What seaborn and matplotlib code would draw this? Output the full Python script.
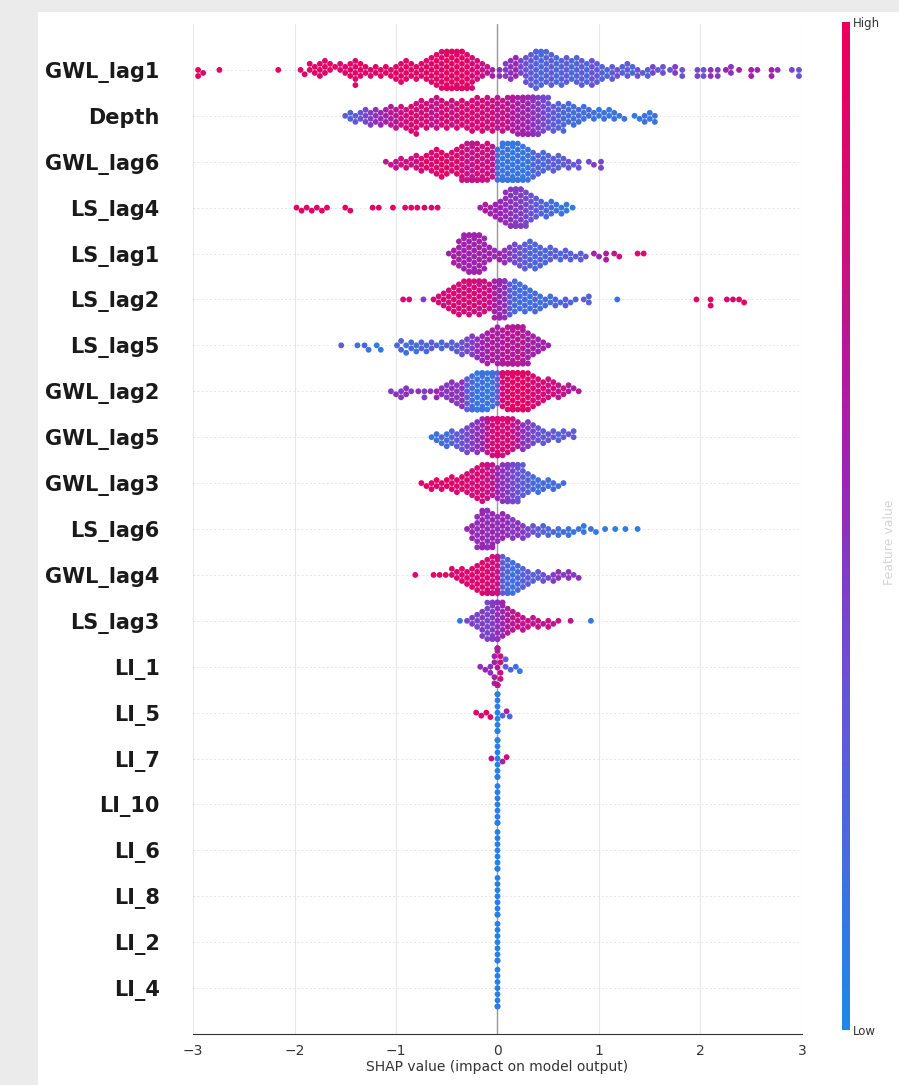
import warnings
warnings.filterwarnings("ignore")
import numpy as np
import pandas as pd
import matplotlib
matplotlib.use("Agg")
import matplotlib.pyplot as plt
import seaborn as sns
from matplotlib.colors import LinearSegmentedColormap, Normalize
from matplotlib.cm import ScalarMappable
from matplotlib.patches import Rectangle

# ---------------- data: (SHAP value, number of samples, feature value 0=low..1=high)
features = ["GWL_lag1", "Depth", "GWL_lag6", "LS_lag4", "LS_lag1", "LS_lag2", "LS_lag5",
            "GWL_lag2", "GWL_lag5", "GWL_lag3", "LS_lag6", "GWL_lag4", "LS_lag3",
            "LI_1", "LI_5", "LI_7", "LI_10", "LI_6", "LI_8", "LI_2", "LI_4"]

GWL_lag1 = [(-2.95,2,0.95),(-2.90,1,0.9),(-2.74,1,0.9),(-2.16,1,0.95),
    (-1.94,1,0.85),(-1.90,1,0.9),(-1.85,2,0.95),(-1.80,2,0.9),(-1.75,3,0.95),(-1.70,3,0.9),
    (-1.65,2,0.95),(-1.60,1,0.9),(-1.55,2,0.85),(-1.50,2,0.9),(-1.45,3,0.95),(-1.40,5,0.9),
    (-1.35,3,0.95),(-1.30,2,0.9),(-1.25,2,0.85),(-1.20,2,0.95),(-1.15,2,0.9),(-1.10,2,0.95),
    (-1.05,2,0.9),(-1.00,3,0.95),(-0.95,4,0.9),(-0.90,4,0.95),(-0.85,3,0.9),(-0.80,3,0.95),
    (-0.75,3,0.9),(-0.70,4,0.95),(-0.65,5,0.9),(-0.60,6,0.95),(-0.55,7,0.9),(-0.50,8,0.95),
    (-0.45,9,0.95),(-0.40,8,0.9),(-0.35,9,0.95),(-0.30,7,0.9),(-0.25,6,0.85),(-0.20,4,0.8),
    (-0.15,3,0.75),(-0.10,2,0.7),(-0.05,2,0.6),
    (0.02,2,0.5),(0.08,3,0.45),(0.13,4,0.5),(0.18,4,0.55),(0.23,3,0.4),(0.28,5,0.35),
    (0.33,6,0.3),(0.38,8,0.25),(0.43,7,0.2),(0.48,6,0.25),(0.53,6,0.3),(0.58,5,0.2),
    (0.63,5,0.25),(0.68,5,0.3),(0.73,4,0.2),(0.78,5,0.25),(0.83,5,0.3),(0.88,4,0.2),
    (0.93,5,0.35),(0.98,4,0.3),(1.03,3,0.25),(1.08,2,0.2),(1.13,3,0.3),(1.18,2,0.35),
    (1.23,2,0.25),(1.28,3,0.3),(1.33,2,0.2),(1.38,2,0.35),(1.43,1,0.3),(1.48,2,0.25),
    (1.53,2,0.4),(1.58,1,0.3),(1.63,2,0.35),(1.70,1,0.3),(1.75,2,0.45),(1.82,2,0.35),
    (1.97,2,0.4),(2.03,2,0.35),(2.10,2,0.5),(2.17,2,0.45),(2.25,1,0.55),(2.30,2,0.5),
    (2.38,1,0.6),(2.50,2,0.6),(2.56,1,0.55),(2.70,2,0.6),(2.76,1,0.5),(2.90,1,0.4),(2.97,2,0.35)]

Depth = [(-1.50,1,0.3),(-1.45,2,0.25),(-1.40,2,0.3),(-1.35,2,0.35),(-1.30,3,0.4),(-1.25,3,0.45),
    (-1.20,3,0.5),(-1.15,3,0.55),(-1.10,3,0.6),(-1.05,4,0.65),(-1.00,4,0.7),(-0.95,4,0.75),
    (-0.90,4,0.8),(-0.85,5,0.85),(-0.80,6,0.85),(-0.75,5,0.8),(-0.70,5,0.85),(-0.65,5,0.7),
    (-0.60,6,0.75),(-0.55,5,0.8),(-0.50,5,0.85),(-0.45,5,0.75),(-0.40,5,0.8),(-0.35,5,0.85),
    (-0.30,5,0.8),(-0.25,6,0.85),(-0.20,6,0.8),(-0.15,6,0.85),(-0.10,6,0.75),(-0.05,6,0.8),
    (0.00,6,0.7),(0.05,6,0.75),(0.10,6,0.7),(0.15,7,0.65),(0.20,7,0.6),(0.25,8,0.6),
    (0.30,9,0.55),(0.35,9,0.5),(0.40,8,0.45),(0.45,7,0.4),(0.50,6,0.35),(0.55,5,0.3),
    (0.60,5,0.25),(0.65,5,0.2),(0.70,4,0.2),(0.75,4,0.15),(0.80,3,0.2),(0.85,3,0.15),
    (0.90,2,0.2),(0.95,2,0.15),(1.00,2,0.1),(1.05,2,0.15),(1.10,2,0.1),(1.15,2,0.15),
    (1.20,1,0.1),(1.25,1,0.15),(1.35,1,0.1),(1.40,1,0.1),(1.45,2,0.15),(1.50,2,0.1),(1.55,2,0.15)]

GWL_lag6 = [(-1.10,1,0.7),(-1.05,1,0.75),(-1.00,2,0.7),(-0.95,2,0.75),(-0.90,2,0.8),(-0.85,2,0.75),
    (-0.80,3,0.8),(-0.75,3,0.85),(-0.70,3,0.9),(-0.65,4,0.85),(-0.60,5,0.9),(-0.55,5,0.95),
    (-0.50,4,0.9),(-0.45,4,0.85),(-0.40,5,0.9),(-0.35,7,0.8),(-0.30,8,0.75),(-0.25,9,0.7),
    (-0.20,8,0.8),(-0.15,7,0.75),(-0.10,7,0.8),(-0.05,6,0.7),(0.00,6,0.2),(0.05,8,0.1),
    (0.10,8,0.15),(0.15,9,0.1),(0.20,8,0.15),(0.25,7,0.1),(0.30,6,0.15),(0.35,5,0.2),
    (0.40,4,0.25),(0.45,4,0.2),(0.50,3,0.25),(0.55,3,0.3),(0.60,3,0.25),(0.65,2,0.3),
    (0.70,2,0.35),(0.75,1,0.3),(0.80,2,0.35),(0.90,1,0.4),(0.95,1,0.45),(1.02,2,0.4)]

LS_lag4 = [(-1.98,1,0.9),(-1.93,1,0.95),(-1.88,1,0.9),(-1.83,1,0.95),(-1.78,1,0.9),(-1.73,1,0.95),
    (-1.68,1,0.9),(-1.50,1,0.95),(-1.45,1,0.9),(-1.23,1,0.95),(-1.17,1,0.9),(-1.03,1,0.95),
    (-0.91,1,0.9),(-0.85,1,0.95),(-0.79,1,0.9),(-0.72,1,0.95),(-0.65,1,0.9),(-0.59,1,0.85),
    (-0.17,1,0.6),(-0.12,2,0.65),(-0.07,2,0.6),(-0.02,3,0.55),(0.03,4,0.55),(0.08,6,0.5),
    (0.13,8,0.5),(0.18,10,0.45),(0.23,9,0.45),(0.28,7,0.4),(0.33,5,0.35),(0.38,4,0.3),
    (0.43,3,0.25),(0.48,3,0.2),(0.53,3,0.2),(0.58,2,0.15),(0.63,2,0.15),(0.68,2,0.1),(0.74,1,0.1)]

LS_lag1 = [(-0.48,1,0.6),(-0.43,3,0.6),(-0.38,5,0.6),(-0.33,7,0.55),(-0.28,9,0.6),(-0.23,10,0.55),
    (-0.18,9,0.6),(-0.13,6,0.55),(-0.08,3,0.6),(-0.03,2,0.5),(0.02,2,0.6),(0.07,3,0.5),
    (0.12,3,0.45),(0.17,4,0.4),(0.22,4,0.35),(0.27,5,0.3),(0.32,5,0.25),(0.37,5,0.2),
    (0.42,4,0.25),(0.47,3,0.2),(0.52,3,0.25),(0.57,2,0.3),(0.62,2,0.2),(0.67,2,0.3),
    (0.72,2,0.25),(0.77,1,0.3),(0.82,2,0.25),(0.87,1,0.35),(0.95,1,0.6),(1.00,1,0.55),
    (1.07,2,0.65),(1.15,1,0.7),(1.20,1,0.75),(1.38,1,0.85),(1.44,1,0.9)]

LS_lag2 = [(-0.93,1,0.85),(-0.87,1,0.8),(-0.73,1,0.45),(-0.63,1,0.85),(-0.58,2,0.8),(-0.53,3,0.85),
    (-0.48,4,0.8),(-0.43,5,0.85),(-0.38,6,0.8),(-0.33,6,0.85),(-0.28,7,0.8),(-0.23,6,0.85),
    (-0.18,7,0.75),(-0.13,6,0.8),(-0.08,5,0.75),(-0.03,7,0.6),(0.02,9,0.55),(0.07,8,0.5),
    (0.12,6,0.3),(0.17,6,0.2),(0.22,5,0.15),(0.27,5,0.2),(0.32,4,0.15),(0.37,4,0.2),
    (0.42,3,0.15),(0.47,2,0.2),(0.52,2,0.15),(0.57,2,0.25),(0.62,1,0.2),(0.67,2,0.3),
    (0.72,1,0.2),(0.77,1,0.25),(0.85,1,0.3),(0.90,2,0.25),(1.18,1,0.15),(1.96,1,0.9),
    (2.10,2,0.9),(2.26,1,0.85),(2.32,1,0.9),(2.38,1,0.9),(2.43,1,0.95)]

LS_lag5 = [(-1.54,1,0.3),(-1.38,1,0.15),(-1.31,1,0.2),(-1.27,1,0.15),(-1.19,1,0.05),(-1.15,1,0.1),
    (-0.99,1,0.2),(-0.95,2,0.25),(-0.90,2,0.15),(-0.85,2,0.2),(-0.80,2,0.15),(-0.75,2,0.25),
    (-0.70,2,0.2),(-0.65,2,0.3),(-0.60,1,0.25),(-0.55,2,0.2),(-0.50,1,0.3),(-0.45,2,0.25),
    (-0.40,2,0.3),(-0.35,3,0.35),(-0.30,3,0.4),(-0.25,4,0.45),(-0.20,4,0.5),(-0.15,5,0.55),
    (-0.10,6,0.6),(-0.05,6,0.65),(0.00,7,0.6),(0.05,7,0.65),(0.10,8,0.7),(0.15,9,0.65),
    (0.20,10,0.7),(0.25,8,0.65),(0.30,6,0.6),(0.35,4,0.6),(0.40,3,0.55),(0.45,2,0.6),(0.50,1,0.55)]

GWL_lag2 = [(-1.05,1,0.45),(-1.00,1,0.5),(-0.95,2,0.45),(-0.90,2,0.5),(-0.85,1,0.45),(-0.78,1,0.5),
    (-0.72,2,0.45),(-0.66,1,0.5),(-0.60,2,0.55),(-0.55,2,0.5),(-0.50,3,0.45),(-0.45,4,0.5),
    (-0.40,4,0.45),(-0.35,5,0.5),(-0.30,6,0.3),(-0.25,7,0.2),(-0.20,8,0.1),(-0.15,8,0.15),
    (-0.10,7,0.1),(-0.05,7,0.15),(0.00,6,0.3),(0.05,7,0.85),(0.10,8,0.9),(0.15,9,0.95),
    (0.20,8,0.9),(0.25,8,0.95),(0.30,7,0.9),(0.35,6,0.85),(0.40,5,0.8),(0.45,4,0.85),
    (0.50,4,0.75),(0.55,3,0.8),(0.60,3,0.7),(0.65,2,0.75),(0.70,2,0.65),(0.75,1,0.6),(0.80,1,0.65)]

GWL_lag5 = [(-0.65,1,0.1),(-0.60,2,0.15),(-0.55,2,0.2),(-0.50,3,0.15),(-0.45,3,0.25),(-0.40,3,0.3),
    (-0.35,4,0.35),(-0.30,5,0.4),(-0.25,5,0.45),(-0.20,6,0.5),(-0.15,6,0.55),(-0.10,7,0.7),
    (-0.05,8,0.8),(0.00,9,0.85),(0.05,8,0.8),(0.10,7,0.85),(0.15,6,0.75),(0.20,5,0.65),
    (0.25,5,0.5),(0.30,5,0.45),(0.35,4,0.4),(0.40,3,0.35),(0.45,3,0.3),(0.50,2,0.35),
    (0.55,2,0.3),(0.60,2,0.25),(0.65,2,0.3),(0.70,1,0.35),(0.75,2,0.3)]

GWL_lag3 = [(-0.75,1,0.9),(-0.70,1,0.95),(-0.65,2,0.9),(-0.60,2,0.95),(-0.55,2,0.9),(-0.50,2,0.95),
    (-0.45,3,0.9),(-0.40,3,0.85),(-0.35,3,0.9),(-0.30,4,0.85),(-0.25,5,0.8),(-0.20,6,0.85),
    (-0.15,7,0.8),(-0.10,7,0.75),(-0.05,6,0.7),(0.00,6,0.55),(0.05,7,0.5),(0.10,8,0.45),
    (0.15,9,0.4),(0.20,8,0.35),(0.25,6,0.3),(0.30,4,0.25),(0.35,3,0.2),(0.40,3,0.15),
    (0.45,2,0.2),(0.50,2,0.15),(0.55,2,0.2),(0.60,1,0.15),(0.65,1,0.2)]

LS_lag6 = [(-0.30,1,0.55),(-0.25,3,0.55),(-0.20,6,0.5),(-0.15,9,0.55),(-0.10,10,0.5),(-0.05,7,0.55),
    (0.00,5,0.5),(0.05,5,0.55),(0.10,4,0.5),(0.15,4,0.45),(0.20,3,0.5),(0.25,3,0.45),
    (0.30,2,0.4),(0.35,2,0.35),(0.40,2,0.3),(0.45,2,0.25),(0.50,2,0.2),(0.55,1,0.25),
    (0.60,2,0.15),(0.65,1,0.2),(0.70,2,0.15),(0.75,1,0.1),(0.80,1,0.15),(0.85,2,0.1),
    (0.92,1,0.15),(0.97,1,0.1),(1.06,1,0.1),(1.16,1,0.05),(1.26,1,0.1),(1.38,1,0.05)]

GWL_lag4 = [(-0.81,1,0.9),(-0.63,1,0.95),(-0.57,1,0.9),(-0.51,1,0.95),(-0.45,2,0.9),(-0.40,2,0.85),
    (-0.35,3,0.9),(-0.30,3,0.85),(-0.25,4,0.9),(-0.20,5,0.85),(-0.15,6,0.9),(-0.10,7,0.85),
    (-0.05,8,0.8),(0.00,8,0.75),(0.05,7,0.3),(0.10,7,0.2),(0.15,6,0.15),(0.20,5,0.2),
    (0.25,4,0.25),(0.30,3,0.3),(0.35,2,0.25),(0.40,2,0.3),(0.45,2,0.35),(0.50,1,0.4),
    (0.55,2,0.45),(0.60,2,0.5),(0.65,1,0.45),(0.70,2,0.5),(0.75,1,0.45),(0.80,1,0.5)]

LS_lag3 = [(-0.37,1,0.1),(-0.30,1,0.4),(-0.25,2,0.45),(-0.20,3,0.4),(-0.15,5,0.45),(-0.10,7,0.4),
    (-0.05,8,0.45),(0.00,9,0.5),(0.05,7,0.55),(0.10,5,0.65),(0.15,4,0.7),(0.20,3,0.75),
    (0.25,3,0.7),(0.30,2,0.75),(0.35,2,0.7),(0.40,2,0.75),(0.45,1,0.7),(0.50,2,0.75),
    (0.55,1,0.7),(0.60,1,0.75),(0.72,1,0.7),(0.92,1,0.1)]

LI_1 = [(-0.17,1,0.5),(-0.12,1,0.55),(-0.07,2,0.5),(-0.03,4,0.6),(0.00,9,0.7),(0.03,4,0.75),
        (0.08,2,0.3),(0.13,1,0.2),(0.18,1,0.15),(0.22,1,0.1)]
LI_5 = [(-0.21,1,0.9),(-0.16,1,0.85),(-0.11,1,0.9),(-0.07,1,0.85),(0.00,9,0.05),
        (0.05,1,0.2),(0.09,1,0.6),(0.12,1,0.2)]
LI_7 = [(-0.06,1,0.7),(0.00,9,0.05),(0.05,1,0.6),(0.09,1,0.8)]
LI_10 = [(0.00,8,0.05)]
LI_6 = [(0.00,8,0.05)]
LI_8 = [(0.00,8,0.05)]
LI_2 = [(0.00,8,0.05)]
LI_4 = [(0.00,8,0.05)]

xticks = [-3, -2, -1, 0, 1, 2, 3]

series = {"GWL_lag1": GWL_lag1, "Depth": Depth, "GWL_lag6": GWL_lag6, "LS_lag4": LS_lag4,
          "LS_lag1": LS_lag1, "LS_lag2": LS_lag2, "LS_lag5": LS_lag5, "GWL_lag2": GWL_lag2,
          "GWL_lag5": GWL_lag5, "GWL_lag3": GWL_lag3, "LS_lag6": LS_lag6, "GWL_lag4": GWL_lag4,
          "LS_lag3": LS_lag3, "LI_1": LI_1, "LI_5": LI_5, "LI_7": LI_7, "LI_10": LI_10,
          "LI_6": LI_6, "LI_8": LI_8, "LI_2": LI_2, "LI_4": LI_4}

records = []
for feat in features:
    for sv, n, fv in series[feat]:
        records.extend([(feat, sv, fv)] * n)
df = pd.DataFrame(records, columns=["feature", "shap", "fval"])

# ---------------- style
sns.set_theme(style="white")
plt.rcParams["font.family"] = ["DejaVu Sans"]

cmap = LinearSegmentedColormap.from_list(
    "shap_rb", [(0.0, "#1e88e5"), (0.35, "#6a52d2"), (0.55, "#9b24b2"),
                (0.8, "#d20c7a"), (1.0, "#ea005a")])

W, H = 899, 1085
fig = plt.figure(figsize=(W / 100, H / 100), dpi=100, facecolor="#ebebeb")
fig.patches.append(Rectangle((38 / W, 0), 1 - 38 / W, 1 - 12 / H, transform=fig.transFigure,
                             facecolor="white", edgecolor="none", zorder=-10))

ax = fig.add_axes([193 / W, (H - 1034) / H, (802 - 193) / W, (1034 - 24) / H])
ax.set_facecolor("white")

for t in xticks:
    ax.axvline(t, color="#e8e8e8", lw=0.8, zorder=0)
for i in range(len(features)):
    ax.axhline(i, color="#dcdcdc", lw=0.6, ls=(0, (2, 3)), zorder=0)
ax.axvline(0, color="#9a9a9a", lw=1.0, zorder=1)

sns.swarmplot(data=df, x="shap", y="feature", hue="fval", order=features, orient="h",
              palette=cmap, hue_norm=(0, 1), size=4.2, linewidth=0,
              legend=False, ax=ax, zorder=3, warn_thresh=1.0)

ax.set_xlim(-3, 3)
ax.set_ylim(len(features), -1)
ax.set_xticks(xticks)
ax.set_xticklabels([str(t).replace("-", "\u2212") for t in xticks])
ax.set_yticks(range(len(features)))
ax.set_yticklabels(features, fontsize=15, fontweight="bold", color="#1a1a1a")
ax.tick_params(axis="y", length=0, pad=24)
ax.tick_params(axis="x", length=4, width=0.8, colors="#333333", labelsize=10, pad=3)
for s in ["left", "top", "right"]:
    ax.spines[s].set_visible(False)
ax.spines["bottom"].set_color("#333333")
ax.spines["bottom"].set_linewidth(0.8)
ax.set_ylabel("")
ax.set_xlabel("SHAP value (impact on model output)", fontsize=10, color="#333333", labelpad=2)

# ---------------- colorbar
cax = fig.add_axes([842 / W, (H - 1030) / H, 8 / W, (1030 - 22) / H])
sm = ScalarMappable(norm=Normalize(0, 1), cmap=cmap)
cb = fig.colorbar(sm, cax=cax, ticks=[0, 1])
cb.set_ticklabels(["Low", "High"])
cb.outline.set_visible(False)
cax.tick_params(length=0, labelsize=8.5, pad=2, colors="#333333")
fig.text(0.997, 0.5, "Feature value", rotation=90, ha="right", va="center",
         fontsize=9, color="#d4d4d4")

fig.savefig("out.png", dpi=100, facecolor=fig.get_facecolor())
